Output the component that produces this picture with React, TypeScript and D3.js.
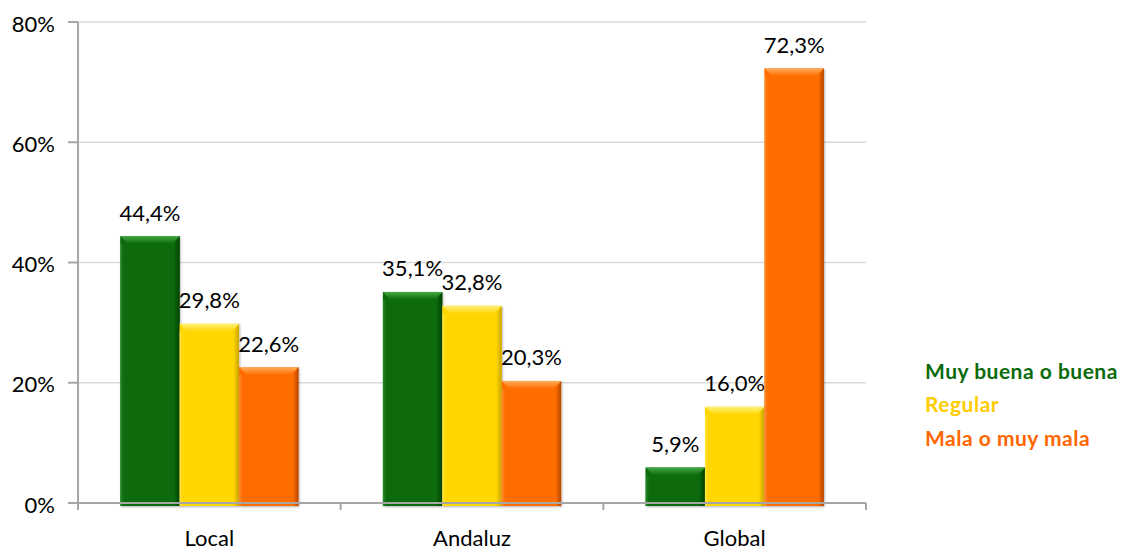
import React from "react";
import * as d3 from "d3";

const categories = ["Local", "Andaluz", "Global"];
const seriesNames = ["Muy buena o buena", "Regular", "Mala o muy mala"];
const muyBuena = [44.4, 35.1, 5.9];
const regular = [29.8, 32.8, 16.0];
const mala = [22.6, 20.3, 72.3];
const yTicks = [0, 20, 40, 60, 80];

const seriesValues = [muyBuena, regular, mala];
const palette = [
  { base: "#0a6a0a", light: "#44a844", dark: "#034003", legend: "#0b6b0b" },
  { base: "#ffd600", light: "#fff07a", dark: "#c9a300", legend: "#ffcc00" },
  { base: "#ff6c00", light: "#ffad5a", dark: "#b34700", legend: "#ff6600" },
];

const W = 1126;
const H = 551;
const left = 78;
const right = 866;
const top = 22;
const bottom = 503;
const font = "Lato, 'Open Sans', sans-serif";

export default function App() {
  const x0 = d3.scaleBand<string>().domain(categories).range([left, right]).paddingInner(0).paddingOuter(0);
  const x1 = d3
    .scaleBand<string>()
    .domain(seriesNames)
    .range([0, x0.bandwidth()])
    .paddingInner(0)
    .paddingOuter(0.71);
  const y = d3.scaleLinear().domain([0, 80]).range([bottom, top]);
  const fmt = (v: number) => d3.format(".1f")(v).replace(".", ",") + "%";
  const b = 8;

  return (
    <svg width={W} height={H} style={{ position: "absolute", left: 0, top: 0, background: "#fff" }}>
      <defs>
        {palette.map((p, i) => (
          <React.Fragment key={i}>
            <linearGradient id={`top${i}`} x1="0" y1="0" x2="0" y2="1">
              <stop offset="0%" stopColor={p.light} />
              <stop offset="100%" stopColor={p.base} />
            </linearGradient>
            <linearGradient id={`right${i}`} x1="0" y1="0" x2="1" y2="0">
              <stop offset="0%" stopColor={p.base} />
              <stop offset="100%" stopColor={p.dark} />
            </linearGradient>
            <linearGradient id={`left${i}`} x1="0" y1="0" x2="1" y2="0">
              <stop offset="0%" stopColor={p.light} stopOpacity={0.6} />
              <stop offset="100%" stopColor={p.base} stopOpacity={0} />
            </linearGradient>
          </React.Fragment>
        ))}
        <filter id="shadow" x="-10%" y="-10%" width="130%" height="130%">
          <feDropShadow dx="1" dy="1" stdDeviation="1.2" floodColor="#000" floodOpacity="0.3" />
        </filter>
      </defs>

      {/* gridlines */}
      {yTicks.map((t) => (
        <line key={t} x1={left} x2={right} y1={y(t)} y2={y(t)} stroke={t === 0 ? "#a6a6a6" : "#d9d9d9"} strokeWidth={t === 0 ? 2 : 1.5} />
      ))}

      {/* bars */}
      {categories.map((c, ci) =>
        seriesNames.map((s, si) => {
          const v = seriesValues[si][ci];
          const bx = (x0(c) as number) + (x1(s) as number);
          const bw = x1.bandwidth();
          const by = y(v);
          return (
            <g key={`${c}-${s}`}>
              <rect x={bx} y={by} width={bw} height={bottom - by + 3} fill={palette[si].base} filter="url(#shadow)" />
              <polygon
                points={`${bx},${by + b} ${bx + b * 0.6},${by + b} ${bx + b * 0.6},${bottom + 3} ${bx},${bottom + 3}`}
                fill={`url(#left${si})`}
              />
              <polygon
                points={`${bx + bw},${by} ${bx + bw},${bottom + 3} ${bx + bw - b * 0.7},${bottom + 3} ${bx + bw - b * 0.7},${by + b}`}
                fill={`url(#right${si})`}
              />
              <polygon
                points={`${bx},${by} ${bx + bw},${by} ${bx + bw - b},${by + b} ${bx + b},${by + b}`}
                fill={`url(#top${si})`}
              />
              <text
                x={bx + bw / 2}
                y={by - 24}
                textAnchor="middle"
                dominantBaseline="central"
                fontFamily={font}
                fontSize={22}
                fill="#000"
              >
                {fmt(v)}
              </text>
            </g>
          );
        })
      )}

      {/* axes */}
      <line x1={left} x2={left} y1={top} y2={bottom + 7} stroke="#a6a6a6" strokeWidth={2} />
      <line x1={left - 10} x2={right} y1={bottom} y2={bottom} stroke="#a6a6a6" strokeWidth={2} />
      {yTicks.map((t) => (
        <g key={`yt${t}`}>
          <line x1={left - 10} x2={left} y1={y(t)} y2={y(t)} stroke="#a6a6a6" strokeWidth={2} />
          <text
            x={55}
            y={y(t) + 1}
            textAnchor="end"
            dominantBaseline="central"
            fontFamily={font}
            fontSize={22}
            fill="#000"
          >
            {t}%
          </text>
        </g>
      ))}
      {[...categories.map((c) => x0(c) as number), right].map((xx, i) => (
        <line key={`xt${i}`} x1={xx} x2={xx} y1={bottom} y2={bottom + 7} stroke="#a6a6a6" strokeWidth={2} />
      ))}
      {categories.map((c) => (
        <text
          key={`cl${c}`}
          x={(x0(c) as number) + x0.bandwidth() / 2}
          y={537}
          textAnchor="middle"
          dominantBaseline="central"
          fontFamily={font}
          fontSize={22}
          fill="#000"
        >
          {c}
        </text>
      ))}

      {/* legend */}
      {seriesNames.map((s, i) => (
        <text
          key={`lg${s}`}
          x={925}
          y={370 + i * 33.5}
          dominantBaseline="central"
          fontFamily={font}
          fontSize={21}
          fontWeight="bold"
          letterSpacing={0.5}
          fill={palette[i].legend}
        >
          {s}
        </text>
      ))}
    </svg>
  );
}
